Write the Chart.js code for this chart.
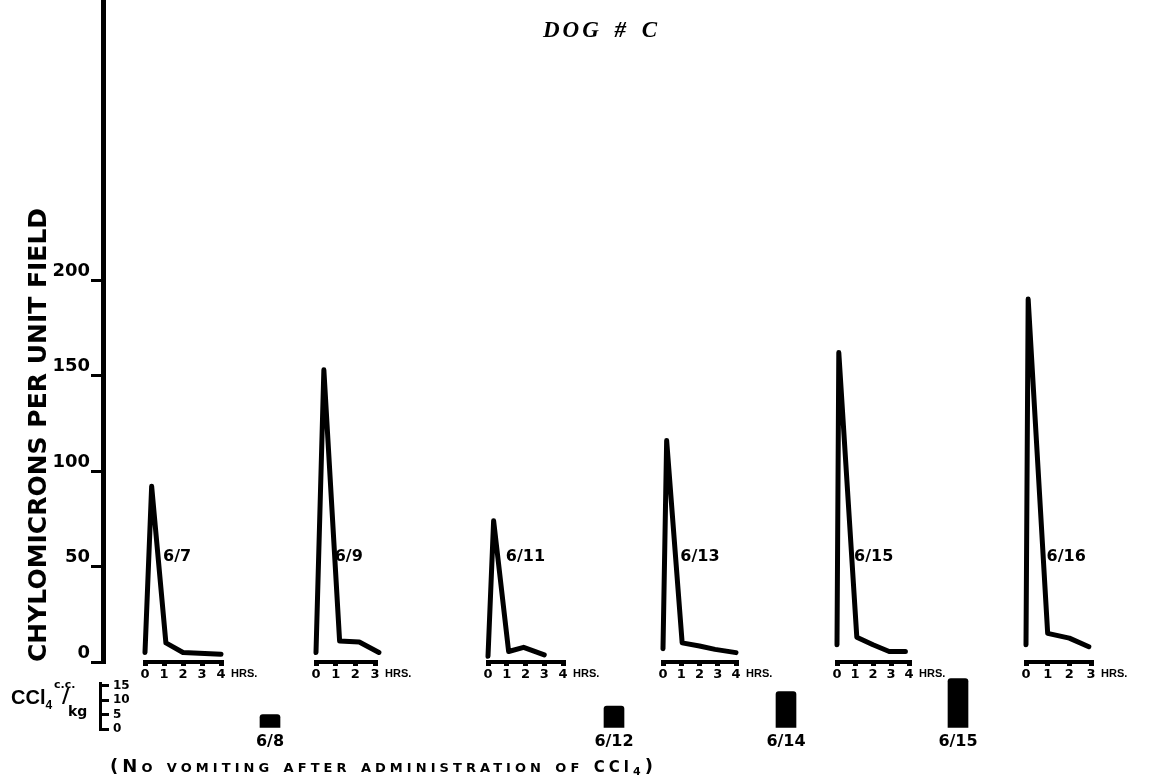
<!DOCTYPE html>
<html>
<head>
<meta charset="utf-8">
<script src="https://cdn.jsdelivr.net/npm/chart.js@4.4.1/dist/chart.umd.min.js"></script>
<style>
  html, body { margin: 0; padding: 0; background: #fff; }
  #wrap { position: relative; width: 1149px; height: 780px; overflow: hidden; background: #fff; }
  #wrap canvas { position: absolute; }
  .t { position: absolute; white-space: nowrap; color: #000; }
</style>
</head>
<body>
<div id="wrap">
  <div class="t" id="title" style="left:543px;top:18px;font:italic bold 23px/23px 'Liberation Serif';letter-spacing:3px;word-spacing:4px">DOG # C</div>
  <div class="t" style="left:11px;top:686px;font:bold 20px/22px 'Liberation Sans'">CCl<span style="font-size:12px;position:relative;top:5px">4</span></div>
  <div class="t" style="left:54px;top:679px;font:bold 11px/12px 'DejaVu Sans'">c.c.</div>
  <div class="t" style="left:62px;top:684px;font:bold 20px/22px 'DejaVu Sans'">/</div>
  <div class="t" style="left:68px;top:703px;font:bold 14px/16px 'DejaVu Sans'">kg</div>
  <div class="t" id="note" style="left:110px;top:757px;font:small-caps bold 18px/18px 'DejaVu Sans'">(No vomiting after administration of <span style="font-variant:normal;font-size:15px">CCl</span><span style="font-variant:normal;font-size:11px;position:relative;top:3px">4</span>)</div>
</div>
<script>
// ---------------- data ----------------
const yTicks = [0, 50, 100, 150, 200];
const panelDates = ["6/7", "6/9", "6/11", "6/13", "6/15", "6/16"];
const panelAxisHours = [4, 3, 4, 4, 4, 3];
const hours0607 = [0, 0.35, 1.1, 2, 4];
const chylo0607 = [5, 92, 10, 5, 4];
const hours0609 = [0, 0.4, 1.2, 2.2, 3.2];
const chylo0609 = [5, 153, 11, 10.5, 5];
const hours0611 = [0, 0.3, 1.1, 1.9, 3];
const chylo0611 = [3, 74, 5.5, 7.7, 3.7];
const hours0613 = [0, 0.2, 1.05, 2, 2.85, 4];
const chylo0613 = [7, 116, 10, 8.4, 6.6, 4.9];
const hours0615 = [0, 0.1, 1.1, 2, 2.9, 3.8];
const chylo0615 = [9, 162, 13, 9, 5.5, 5.5];
const hours0616 = [0, 0.1, 1, 2, 2.9];
const chylo0616 = [9, 190, 15, 12.5, 8];
const cclTimeline = ["6/7", "6/8", "6/9", "6/10", "6/11", "6/12", "6/13", "6/14", "6/15", "6/15", "6/16"];
const cclDose = [null, 5, null, null, null, 8, null, 13, null, 17.5, null];
const cclTicks = [0, 5, 10, 15];

// ---------------- layout ----------------
const W = 1149, H = 780;
const ZERO_Y = 662;            // pixel row of 0 chylomicrons
const Y_MAX = 346.6;           // value at the top edge
const MAIN_PAD_LEFT = 10, AXIS_X = 103;
const PANEL_LEFT = [145, 316, 488, 663, 837, 1026];
const PANEL_W = [76, 59, 75, 73, 72, 65];
const PANEL_PAD_L = 6, PANEL_PAD_R = 50, PANEL_H = 700;
const CCL_TOP = 660, CCL_H = 120, CCL_AXIS_X = 100, CCL_ZERO_Y = 729, CCL_TOP_Y = 683, CCL_MAX = 16;
const SLOT0 = 184, SLOT_W = 86;

Chart.defaults.font.family = "'DejaVu Sans'";
Chart.defaults.color = '#000';
const wrap = document.getElementById('wrap');
function makeCanvas(left, top, w, h) {
  const c = document.createElement('canvas');
  c.width = w; c.height = h;
  c.style.left = left + 'px'; c.style.top = top + 'px';
  c.style.width = w + 'px'; c.style.height = h + 'px';
  wrap.insertBefore(c, wrap.firstChild);
  return c;
}
const common = {
  responsive: false, animation: false, devicePixelRatio: 1,
  plugins: { legend: { display: false }, tooltip: { enabled: false }, title: { display: false } }
};
function noPad(s) { s.paddingTop = 0; s.paddingBottom = 0; s.paddingLeft = 0; s.paddingRight = 0; }

// ---------------- CCl4 chart ----------------
const cclCanvas = makeCanvas(0, CCL_TOP, W, CCL_H);
new Chart(cclCanvas, {
  type: 'bar',
  data: {
    datasets: [{
      data: cclDose.map((d, i) => d == null ? null : { x: i, y: d }).filter(Boolean),
      backgroundColor: '#000', borderColor: '#000', borderWidth: 0,
      barThickness: 20, borderRadius: 3, clip: false
    }]
  },
  options: Object.assign({}, common, {
    layout: { padding: { left: 0, right: 0, top: CCL_TOP_Y - CCL_TOP, bottom: 0 } },
    scales: {
      x: {
        type: 'linear', offset: false,
        min: (CCL_AXIS_X - SLOT0) / SLOT_W, max: (W - SLOT0) / SLOT_W,
        afterFit(s) { s.height = CCL_TOP + CCL_H - CCL_ZERO_Y; noPad(s); },
        afterBuildTicks(s) { s.ticks = cclDose.map((d, i) => d == null ? null : { value: i }).filter(Boolean); },
        grid: { display: false, drawTicks: false, offset: false }, border: { display: false },
        ticks: { autoSkip: false, maxRotation: 0, padding: 3, color: '#000',
                 font: { weight: 'bold', size: 16 }, callback: v => cclTimeline[v] }
      },
      y: {
        min: 0, max: CCL_MAX,
        afterFit(s) { s.width = CCL_AXIS_X; noPad(s); },
        afterBuildTicks(s) { s.ticks = cclTicks.map(v => ({ value: v })); },
        border: { display: true, width: 3, color: '#000' },
        grid: { display: true, drawOnChartArea: false, drawTicks: true, tickLength: -9, lineWidth: 3, color: '#000' },
        ticks: { mirror: true, autoSkip: false, padding: 13, color: '#000', font: { weight: 'bold', size: 12 } }
      }
    }
  })
});

// ---------------- panels ----------------
const panelHours = [hours0607, hours0609, hours0611, hours0613, hours0615, hours0616];
const panelChylo = [chylo0607, chylo0609, chylo0611, chylo0613, chylo0615, chylo0616];
const panelText = {
  id: 'panelText',
  afterDraw(chart, args, opts) {
    const { ctx, chartArea, scales: { x, y } } = chart;
    ctx.save();
    ctx.fillStyle = '#000';
    ctx.textAlign = 'left';
    ctx.textBaseline = 'middle';
    ctx.font = "bold 16px 'DejaVu Sans'";
    ctx.fillText(opts.date, x.getPixelForValue(opts.labelHour), y.getPixelForValue(opts.labelValue));
    ctx.textBaseline = 'top';
    ctx.font = "bold 11px 'Liberation Sans'";
    ctx.fillText('HRS.', chartArea.right + 10, chartArea.bottom + 6);
    ctx.restore();
  }
};
for (let k = panelDates.length - 1; k >= 0; k--) {
  const cw = PANEL_PAD_L + PANEL_W[k] + PANEL_PAD_R;
  const cv = makeCanvas(PANEL_LEFT[k] - PANEL_PAD_L, 0, cw, PANEL_H);
  new Chart(cv, {
    type: 'line',
    data: {
      datasets: [{
        data: panelHours[k].map((h, i) => ({ x: h, y: panelChylo[k][i] })),
        borderColor: '#000', borderWidth: 5, pointRadius: 0, tension: 0,
        borderJoinStyle: 'round', borderCapStyle: 'round', fill: false, clip: false
      }]
    },
    plugins: [panelText],
    options: Object.assign({}, common, {
      layout: { padding: { left: PANEL_PAD_L, right: PANEL_PAD_R, top: 0, bottom: 0 } },
      plugins: Object.assign({}, common.plugins, {
        panelText: { date: panelDates[k], labelHour: 0.95, labelValue: 55 }
      }),
      scales: {
        x: {
          type: 'linear', min: 0, max: panelAxisHours[k],
          afterFit(s) { s.height = PANEL_H - ZERO_Y; noPad(s); },
          ticks: { stepSize: 1, autoSkip: false, maxRotation: 0, padding: 1, color: '#000',
                   font: { weight: 'bold', size: 13 } },
          border: { display: true, width: 4, color: '#000' },
          grid: { display: true, drawOnChartArea: false, drawTicks: true, tickLength: 4, lineWidth: 5, color: '#000' }
        },
        y: { display: false, min: 0, max: Y_MAX }
      }
    })
  });
}

// ---------------- main axis ----------------
const mainCanvas = makeCanvas(0, 0, W, H);
new Chart(mainCanvas, {
  type: 'line',
  data: { datasets: [] },
  options: Object.assign({}, common, {
    layout: { padding: { left: MAIN_PAD_LEFT, right: 0, top: 0, bottom: H - ZERO_Y } },
    scales: {
      x: { display: false },
      y: {
        min: 0, max: Y_MAX,
        afterFit(s) { s.width = AXIS_X - MAIN_PAD_LEFT; noPad(s); },
        afterBuildTicks(s) { s.ticks = yTicks.map(v => ({ value: v })); },
        border: { display: true, width: 5, color: '#000' },
        grid: { display: true, drawOnChartArea: false, drawTicks: true, tickLength: 12, lineWidth: 3, color: '#000' },
        ticks: { align: 'end', padding: 1, color: '#000', font: { weight: 'bold', size: 18 } },
        title: { display: true, text: 'CHYLOMICRONS PER UNIT FIELD', align: 'start', color: '#000',
                 font: { weight: 'bold', size: 25 }, padding: { top: 14, bottom: 0 } }
      }
    }
  })
});

// stretch the footnote to the width it takes in the reference
(function () {
  const note = document.getElementById('note');
  const target = 547;
  const n = note.textContent.length;
  const w = note.getBoundingClientRect().width;
  note.style.letterSpacing = ((target - w) / n).toFixed(2) + 'px';
})();
</script>
</body>
</html>
